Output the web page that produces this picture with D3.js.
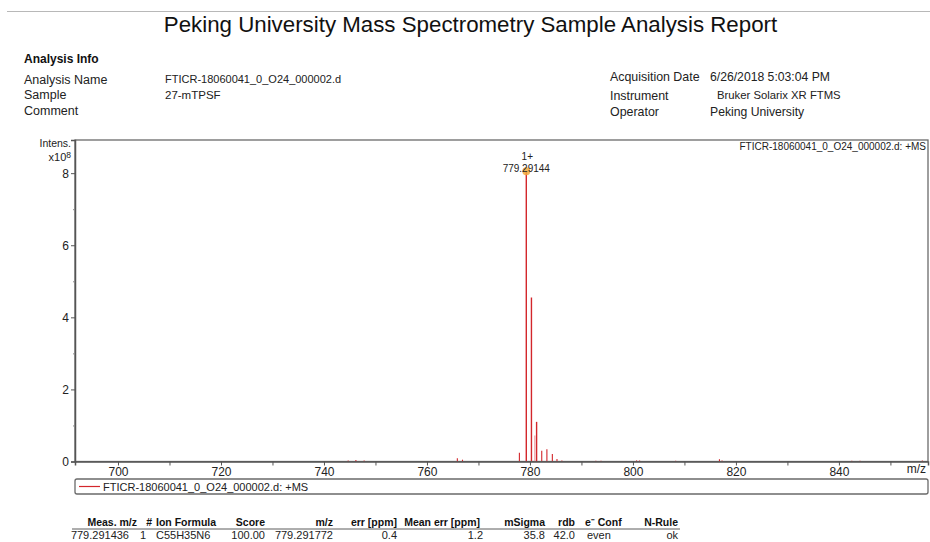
<!DOCTYPE html>
<html><head><meta charset="utf-8">
<script src="https://cdn.jsdelivr.net/npm/d3@7"></script>
<style>
html,body{margin:0;padding:0;background:#fff;}
svg{display:block;font-family:"Liberation Sans",Arial,sans-serif;}
</style></head>
<body>
<svg id="c" width="930" height="542"></svg>
<script>
// ---- data ----
const titleText = "Peking University Mass Spectrometry Sample Analysis Report";
const infoLeftLabels = ["Analysis Name", "Sample", "Comment"];
const infoLeftValues = ["FTICR-18060041_0_O24_000002.d", "27-mTPSF", ""];
const infoRightLabels = ["Acquisition Date", "Instrument", "Operator"];
const infoRightValues = ["6/26/2018 5:03:04 PM", "Bruker Solarix XR FTMS", "Peking University"];
const seriesName = "FTICR-18060041_0_O24_000002.d: +MS";
// spectrum peaks: m/z and intensity (x10^8)
const peakMz  = [744.7, 746.2, 747.8, 765.9, 766.9, 777.95, 779.29, 780.29, 780.95, 781.29, 782.29, 783.29, 784.35, 785.25, 786.2, 792.8, 793.8, 800.7, 801.3, 808.3, 816.8, 817.3, 842.5, 844.1, 856.2];
const peakInt = [0.03, 0.04, 0.03, 0.09, 0.05, 0.24, 8.05, 4.55, 0.72, 1.10, 0.30, 0.34, 0.21, 0.07, 0.03, 0.02, 0.02, 0.03, 0.03, 0.02, 0.06, 0.03, 0.02, 0.02, 0.03];
const annotMz = 779.29144;
const annotInt = 8.05;
const annotLabel = "779.29144";
const annotCharge = "1+";
const xTickValues = [700, 720, 740, 760, 780, 800, 820, 840];
const yTickValues = [0, 2, 4, 6, 8];
const tableHeaders = ["Meas. m/z", "#", "Ion Formula", "Score", "m/z", "err [ppm]", "Mean err [ppm]", "mSigma", "rdb", "e\u207B Conf", "N-Rule"];
const tableRow = ["779.291436", "1", "C55H35N6", "100.00", "779.291772", "0.4", "1.2", "35.8", "42.0", "even", "ok"];

// ---- layout ----
const svg = d3.select("#c");
const plot = {l: 75, t: 140, r: 928, b: 461.5};
const red = "#d3262b";

// top rule and title
svg.append("line").attr("x1", 7).attr("x2", 930).attr("y1", 11.5).attr("y2", 11.5)
  .attr("stroke", "#b8b8b8").attr("stroke-width", 1.2);
svg.append("text").attr("x", 470.5).attr("y", 32).attr("text-anchor", "middle")
  .attr("font-size", 22.3).attr("fill", "#111").text(titleText);

svg.append("text").attr("x", 24).attr("y", 63).attr("font-size", 12).attr("font-weight", "bold")
  .attr("fill", "#111").text("Analysis Info");
const rowYL = [84, 99, 115];
const valSizeL = [11, 11.5, 11];
infoLeftLabels.forEach((t, i) => {
  svg.append("text").attr("x", 24).attr("y", rowYL[i]).attr("font-size", 12.5).attr("fill", "#222").text(t);
  svg.append("text").attr("x", 165).attr("y", rowYL[i] - (i === 0 ? 1 : 0)).attr("font-size", valSizeL[i]).attr("fill", "#222").text(infoLeftValues[i]);
});
const rowYR = [81, 100, 116];
const valYR = [81, 99, 116];
const valXR = [710, 717, 710];
const valSizeR = [12.2, 11.3, 12.2];
infoRightLabels.forEach((t, i) => {
  svg.append("text").attr("x", 610).attr("y", rowYR[i]).attr("font-size", 12.4).attr("fill", "#222").text(t);
  svg.append("text").attr("x", valXR[i]).attr("y", valYR[i]).attr("font-size", valSizeR[i]).attr("fill", "#222").text(infoRightValues[i]);
});

// ---- scales ----
const x = d3.scaleLinear().domain([691.65, 857.3]).range([plot.l, plot.r]);
const y = d3.scaleLinear().domain([0, 8.92]).range([plot.b, plot.t]);

// frame
svg.append("rect").attr("x", plot.l).attr("y", plot.t).attr("width", plot.r - plot.l).attr("height", plot.b - plot.t)
  .attr("fill", "none").attr("stroke", "#6a6a6a").attr("stroke-width", 1.3);

// spectrum
const gs = svg.append("g");
peakMz.forEach((m, i) => {
  gs.append("line").attr("x1", x(m)).attr("x2", x(m)).attr("y1", y(0)).attr("y2", y(peakInt[i]))
    .attr("stroke", i === 8 ? "#e79aa0" : red).attr("stroke-width", peakInt[i] > 1 ? 1.4 : 1.1);
});

// y axis
const yAxis = d3.axisLeft(y).tickValues(yTickValues).tickSize(4).tickPadding(2).tickFormat(d3.format("d"));
const gy = svg.append("g").attr("transform", `translate(${plot.l},0)`).call(yAxis);
gy.select(".domain").attr("stroke", "#555").attr("stroke-width", 1.5);
gy.selectAll(".tick line").attr("stroke", "#555");
gy.selectAll(".tick text").attr("font-size", 12).attr("fill", "#222").attr("font-family", "Liberation Sans, Arial");
const yMinor = d3.axisLeft(y).tickValues([1, 3, 5, 7]).tickSize(2).tickFormat("");
const gym = svg.append("g").attr("transform", `translate(${plot.l},0)`).call(yMinor);
gym.select(".domain").remove();
gym.selectAll(".tick line").attr("stroke", "#888");

svg.append("text").attr("x", 71).attr("y", 146.5).attr("text-anchor", "end").attr("font-size", 10.5).attr("fill", "#222").text("Intens.");
const tx = svg.append("text").attr("x", 71).attr("y", 161).attr("text-anchor", "end").attr("font-size", 11).attr("fill", "#222");
tx.append("tspan").text("x10");
tx.append("tspan").attr("dy", -3).attr("font-size", 8.5).text("8");

// x axis
const xAxis = d3.axisBottom(x).tickValues(d3.range(700, 851, 10)).tickSize(4).tickPadding(2)
  .tickFormat(d => xTickValues.includes(d) ? d : "");
const gx = svg.append("g").attr("transform", `translate(0,${plot.b})`).call(xAxis);
gx.select(".domain").attr("stroke", "#555").attr("stroke-width", 1.5);
gx.selectAll(".tick line").attr("stroke", "#555");
gx.selectAll(".tick text").attr("font-size", 12).attr("fill", "#222").attr("font-family", "Liberation Sans, Arial");
svg.append("text").attr("x", 926).attr("y", 473).attr("text-anchor", "end").attr("font-size", 12).attr("fill", "#222").text("m/z");

// annotation
svg.append("circle").attr("cx", x(annotMz)).attr("cy", y(annotInt)).attr("r", 4)
  .attr("fill", "#f2a93b").attr("fill-opacity", 0.85);
svg.append("text").attr("x", x(annotMz) + 1).attr("y", 159.5).attr("text-anchor", "middle").attr("font-size", 10).attr("fill", "#222").text(annotCharge);
svg.append("text").attr("x", x(annotMz)).attr("y", 171.5).attr("text-anchor", "middle").attr("font-size", 10).attr("fill", "#222").text(annotLabel);
svg.append("text").attr("x", 926).attr("y", 150).attr("text-anchor", "end").attr("font-size", 10).attr("fill", "#222").text(seriesName);

// legend box
svg.append("rect").attr("x", plot.l).attr("y", 479).attr("width", plot.r - plot.l).attr("height", 15).attr("rx", 2)
  .attr("fill", "none").attr("stroke", "#6a6a6a").attr("stroke-width", 1.3);
svg.append("line").attr("x1", 79).attr("x2", 100).attr("y1", 486.5).attr("y2", 486.5).attr("stroke", red).attr("stroke-width", 1.2);
svg.append("text").attr("x", 103).attr("y", 490.5).attr("font-size", 11).attr("fill", "#222").text(seriesName);

// table
const hdrRight = [137, 152, null, 265, 333, 397, 480, 545, 575, null, 678];
const hdrLeft  = [null, null, 156, null, null, null, null, null, null, 585, null];
const rowRight = [129, 146, null, 265, 333, 397, 483, 545, 575, null, 678];
const rowLeft  = [null, null, 156, null, null, null, null, null, null, 587, null];
tableHeaders.forEach((h, i) => {
  const t = svg.append("text").attr("y", 526).attr("font-size", 10.5).attr("font-weight", "bold").attr("fill", "#111");
  if (hdrRight[i] !== null) t.attr("x", hdrRight[i]).attr("text-anchor", "end"); else t.attr("x", hdrLeft[i]);
  t.text(h);
});
svg.append("line").attr("x1", 72).attr("x2", 680).attr("y1", 529).attr("y2", 529).attr("stroke", "#333").attr("stroke-width", 0.8);
tableRow.forEach((v, i) => {
  const t = svg.append("text").attr("y", 538.5).attr("font-size", 11).attr("fill", "#222");
  if (rowRight[i] !== null) t.attr("x", rowRight[i]).attr("text-anchor", "end"); else t.attr("x", rowLeft[i]);
  t.text(v);
});
</script>
</body></html>
